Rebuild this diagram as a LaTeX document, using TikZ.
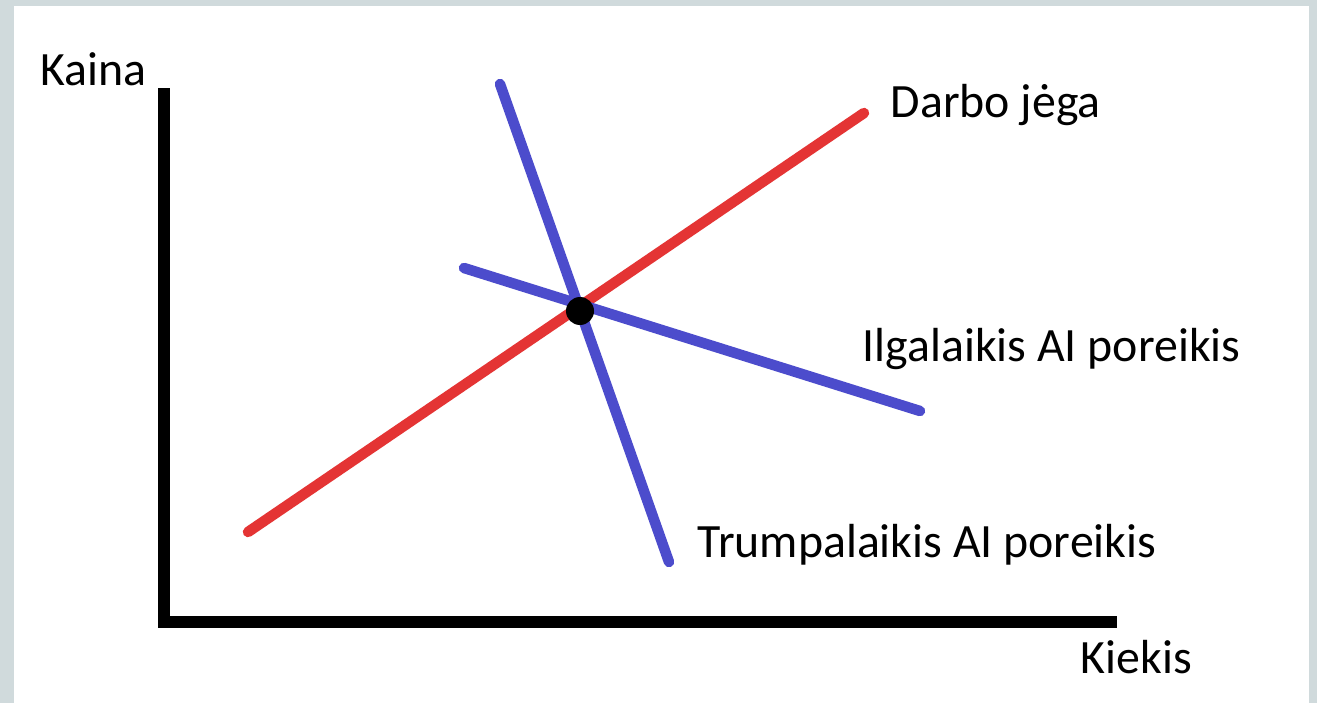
\documentclass[tikz,border=0pt]{standalone}
\usepackage{fontspec}
\setmainfont{Carlito}
\definecolor{bgframe}{RGB}{208,218,220}
\definecolor{supred}{RGB}{228,52,52}
\definecolor{demblue}{RGB}{76,76,204}
\begin{document}
\begin{tikzpicture}[x=0.01cm,y=-0.01cm,
  axis/.style={line width=12*0.01cm, draw=black},
  curve/.style={line width=10.5*0.01cm, line cap=round},
  lbl/.style={anchor=base west, inner sep=0pt, font=\fontsize{13.6}{16}\selectfont}]
\fill[bgframe] (0,0) rectangle (1317,703);
\fill[white] (14,6) rectangle (1309,703);
\useasboundingbox (0,0) rectangle (1317,703);
% axes
\coordinate (ytop) at (164,88);
\coordinate (orig) at (164,622);
\coordinate (xend) at (1117,622);
\draw[axis, line join=miter] (ytop) -- (orig) -- (xend);
% curves
\coordinate (s1) at (248,532);
\coordinate (s2) at (864,113);
\coordinate (d1) at (500,84);
\coordinate (d2) at (669,562);
\coordinate (l1) at (464,268);
\coordinate (l2) at (920,411);
\draw[curve, supred] (s1) -- (s2);
\draw[curve, demblue] (d1) -- (d2);
\draw[curve, demblue] (l1) -- (l2);
\node[circle, fill=black, minimum size=28*0.01cm, inner sep=0pt] (eq) at (580,311) {};
% labels
\node[lbl] (kaina) at (40,85) {Kaina};
\node[lbl] (darbo) at (890,117) {Darbo jėga};
\node[lbl] (ilga) at (862,361) {Ilgalaikis AI poreikis};
\node[lbl] (trump) at (697,557) {Trumpalaikis AI poreikis};
\node[lbl] (kiekis) at (1080,673) {Kiekis};
\end{tikzpicture}
\end{document}
